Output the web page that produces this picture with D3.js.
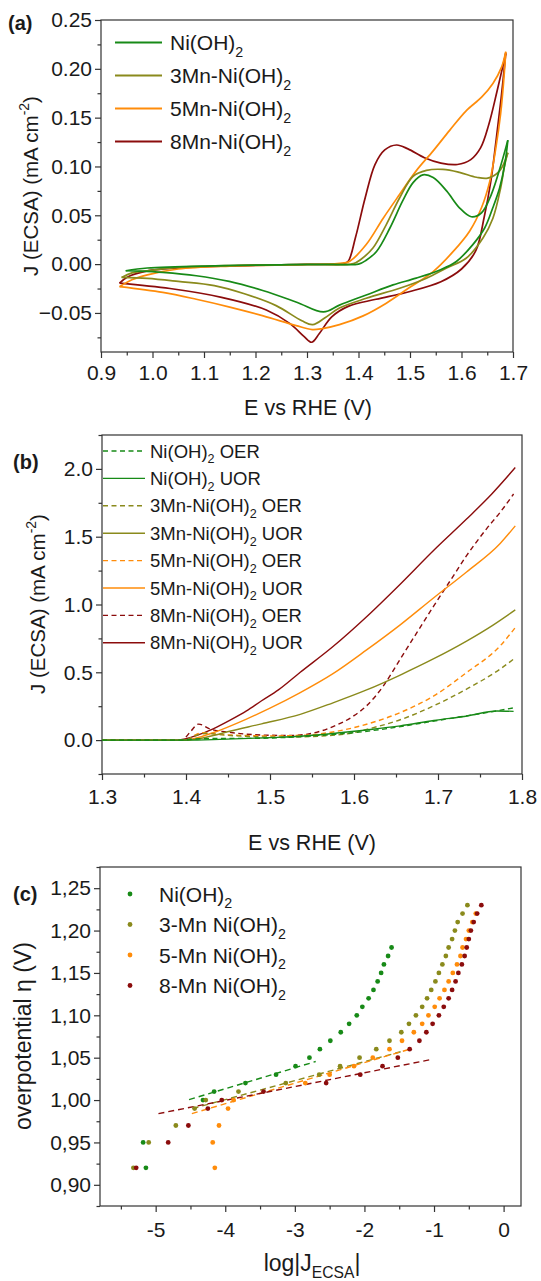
<!DOCTYPE html>
<html>
<head>
<meta charset="utf-8">
<title>CV / LSV / Tafel</title>
<script src="https://d3js.org/d3.v7.min.js"></script>
<style>
  body { margin: 0; background: #fff; }
  text { font-family: "Liberation Sans", Arial, sans-serif; fill: #1a1a1a; }
</style>
</head>
<body>
<script>
// ---------- data: panel (a) cyclic voltammograms, [E (V), J (mA cm-2)] ----------
var niFwd  = [[0.948,-0.0068],[0.99,-0.004],[1.12,-0.0017],[1.25,-0.0007],[1.35,-0.0002],[1.40,0.0],[1.415,0.004],[1.435,0.013],[1.461,0.037],[1.486,0.065],[1.506,0.0835],[1.525,0.0914],[1.545,0.0887],[1.571,0.075],[1.596,0.0577],[1.619,0.0485],[1.639,0.0526],[1.658,0.0715],[1.677,0.1024],[1.69,0.127]];
var niRev  = [[1.69,0.127],[1.684,0.102],[1.674,0.078],[1.661,0.058],[1.645,0.037],[1.622,0.020],[1.59,0.0027],[1.558,-0.006],[1.512,-0.0144],[1.467,-0.0213],[1.415,-0.0316],[1.363,-0.042],[1.332,-0.049],[1.28,-0.039],[1.214,-0.027],[1.149,-0.0177],[1.085,-0.0119],[1.02,-0.0085],[0.975,-0.0072],[0.948,-0.0068]];
var mn3Fwd = [[0.94,-0.0136],[0.96,-0.009],[0.99,-0.0068],[1.05,-0.0034],[1.15,-0.0014],[1.3,-0.0003],[1.39,0.0005],[1.405,0.005],[1.428,0.0165],[1.454,0.0405],[1.48,0.068],[1.506,0.09],[1.532,0.096],[1.564,0.097],[1.596,0.094],[1.629,0.089],[1.651,0.088],[1.674,0.0955],[1.69,0.114]];
var mn3Rev = [[1.69,0.114],[1.684,0.102],[1.676,0.078],[1.661,0.047],[1.642,0.027],[1.609,0.006],[1.571,-0.004],[1.532,-0.0144],[1.48,-0.0247],[1.415,-0.035],[1.363,-0.045],[1.335,-0.055],[1.311,-0.062],[1.29,-0.058],[1.24,-0.0425],[1.18,-0.0306],[1.12,-0.022],[1.05,-0.0177],[0.99,-0.0146],[0.94,-0.0136]];
var mn5Fwd = [[0.936,-0.0231],[0.96,-0.016],[0.99,-0.011],[1.05,-0.005],[1.15,-0.002],[1.3,-0.0004],[1.37,0.001],[1.383,0.003],[1.415,0.02],[1.448,0.047],[1.48,0.0715],[1.512,0.0955],[1.545,0.116],[1.577,0.137],[1.609,0.157],[1.639,0.171],[1.661,0.185],[1.678,0.202],[1.686,0.2175]];
var mn5Rev = [[1.686,0.2175],[1.682,0.188],[1.676,0.154],[1.667,0.12],[1.655,0.085],[1.639,0.058],[1.616,0.034],[1.584,0.013],[1.545,-0.0076],[1.499,-0.024],[1.454,-0.04],[1.409,-0.053],[1.363,-0.062],[1.33,-0.066],[1.31,-0.067],[1.279,-0.063],[1.215,-0.053],[1.15,-0.044],[1.085,-0.036],[1.02,-0.029],[0.936,-0.0231]];
var mn8Fwd = [[0.936,-0.0194],[0.95,-0.0136],[0.99,-0.007],[1.05,-0.004],[1.15,-0.0018],[1.3,-0.0003],[1.37,0.0005],[1.38,0.003],[1.394,0.027],[1.413,0.068],[1.432,0.102],[1.451,0.117],[1.474,0.122],[1.496,0.118],[1.528,0.109],[1.56,0.1035],[1.592,0.102],[1.618,0.107],[1.637,0.119],[1.653,0.143],[1.669,0.177],[1.686,0.216]];
var mn8Rev = [[1.686,0.216],[1.677,0.17],[1.667,0.126],[1.657,0.085],[1.644,0.048],[1.628,0.014],[1.6,-0.005],[1.56,-0.018],[1.5,-0.028],[1.434,-0.036],[1.381,-0.043],[1.348,-0.054],[1.324,-0.071],[1.309,-0.08],[1.294,-0.074],[1.267,-0.061],[1.221,-0.047],[1.134,-0.034],[1.034,-0.025],[0.936,-0.0194]];

// ---------- data: panel (b) linear sweeps, [E (V), J (mA cm-2)] ----------
var niOER  = [[1.30,0],[1.39,0],[1.41,0.008],[1.44,0.012],[1.48,0.013],[1.52,0.02],[1.56,0.035],[1.60,0.055],[1.64,0.085],[1.68,0.125],[1.72,0.165],[1.76,0.205],[1.79,0.238]];
var niUOR  = [[1.30,0],[1.40,0],[1.44,0.005],[1.50,0.018],[1.54,0.03],[1.58,0.052],[1.615,0.075],[1.655,0.105],[1.695,0.145],[1.735,0.178],[1.77,0.215],[1.79,0.212]];
var mn3OER = [[1.30,0],[1.40,0],[1.41,0.03],[1.425,0.05],[1.44,0.04],[1.47,0.028],[1.52,0.022],[1.56,0.03],[1.60,0.055],[1.615,0.079],[1.655,0.15],[1.695,0.253],[1.734,0.376],[1.774,0.524],[1.79,0.597]];
var mn3UOR = [[1.30,0],[1.40,0],[1.41,0.005],[1.43,0.03],[1.452,0.065],[1.49,0.12],[1.536,0.19],[1.575,0.275],[1.615,0.37],[1.655,0.48],[1.695,0.60],[1.734,0.73],[1.766,0.85],[1.792,0.96]];
var mn5OER = [[1.30,0],[1.40,0],[1.41,0.035],[1.42,0.055],[1.435,0.045],[1.46,0.036],[1.50,0.031],[1.54,0.036],[1.575,0.06],[1.615,0.117],[1.655,0.203],[1.695,0.326],[1.734,0.498],[1.774,0.695],[1.792,0.83]];
var mn5UOR = [[1.30,0],[1.40,0],[1.415,0.02],[1.433,0.056],[1.472,0.155],[1.50,0.235],[1.536,0.35],[1.575,0.49],[1.615,0.665],[1.655,0.85],[1.695,1.05],[1.734,1.24],[1.774,1.45],[1.792,1.58]];
var mn8OER = [[1.30,0],[1.395,0],[1.405,0.06],[1.415,0.118],[1.429,0.081],[1.452,0.057],[1.492,0.037],[1.524,0.034],[1.555,0.057],[1.575,0.1],[1.60,0.18],[1.615,0.253],[1.635,0.40],[1.655,0.597],[1.675,0.794],[1.695,0.99],[1.714,1.17],[1.734,1.36],[1.758,1.56],[1.774,1.68],[1.79,1.815]];
var mn8UOR = [[1.30,0],[1.39,0],[1.40,0.01],[1.413,0.035],[1.433,0.085],[1.452,0.145],[1.472,0.215],[1.49,0.29],[1.51,0.37],[1.536,0.50],[1.575,0.69],[1.615,0.91],[1.655,1.15],[1.695,1.40],[1.734,1.63],[1.764,1.815],[1.792,2.01]];

// ---------- data: panel (c) Tafel, [log|J|, overpotential (V)] ----------
var tafNi  = [[-5.14,0.92],[-5.18,0.95],[-4.32,1.00],[-4.16,1.01],[-3.71,1.02],[-3.27,1.03],[-2.99,1.04],[-2.79,1.05],[-2.64,1.06],[-2.49,1.07],[-2.34,1.08],[-2.22,1.09],[-2.11,1.10],[-2.03,1.11],[-1.94,1.12],[-1.87,1.13],[-1.81,1.14],[-1.76,1.15],[-1.72,1.16],[-1.66,1.17],[-1.61,1.18]];
var taf3Mn = [[-5.32,0.92],[-5.10,0.95],[-4.71,0.97],[-4.44,0.99],[-4.28,1.00],[-3.81,1.01],[-3.13,1.02],[-2.65,1.03],[-2.35,1.04],[-2.07,1.05],[-1.83,1.06],[-1.64,1.07],[-1.47,1.08],[-1.36,1.09],[-1.26,1.10],[-1.17,1.11],[-1.10,1.12],[-1.04,1.13],[-0.98,1.14],[-0.93,1.15],[-0.88,1.16],[-0.83,1.17],[-0.79,1.18],[-0.74,1.19],[-0.70,1.20],[-0.66,1.21],[-0.59,1.22],[-0.52,1.23]];
var taf5Mn = [[-4.15,0.92],[-4.18,0.95],[-4.09,0.97],[-3.96,0.99],[-3.88,1.00],[-2.85,1.02],[-2.50,1.03],[-2.15,1.04],[-1.88,1.05],[-1.64,1.06],[-1.46,1.07],[-1.29,1.08],[-1.17,1.09],[-1.08,1.10],[-0.99,1.11],[-0.92,1.12],[-0.85,1.13],[-0.79,1.14],[-0.73,1.15],[-0.67,1.16],[-0.62,1.17],[-0.59,1.18],[-0.54,1.19],[-0.50,1.20],[-0.45,1.21],[-0.40,1.22]];
var taf8Mn = [[-5.28,0.92],[-4.82,0.95],[-4.53,0.97],[-4.25,0.99],[-4.05,1.00],[-3.45,1.01],[-2.55,1.02],[-2.06,1.03],[-1.74,1.04],[-1.52,1.05],[-1.35,1.06],[-1.21,1.07],[-1.11,1.08],[-1.02,1.09],[-0.93,1.10],[-0.86,1.11],[-0.79,1.12],[-0.74,1.13],[-0.69,1.14],[-0.65,1.15],[-0.60,1.16],[-0.56,1.17],[-0.53,1.18],[-0.50,1.19],[-0.47,1.20],[-0.43,1.21],[-0.38,1.22],[-0.32,1.23]];
var fitNi  = [[-4.52,1.0005],[-2.70,1.0455]];
var fit3Mn = [[-4.47,0.990],[-1.48,1.057]];
var fit5Mn = [[-4.48,0.984],[-1.31,1.061]];
var fit8Mn = [[-4.96,0.984],[-1.03,1.048]];

// tick values
var aXTicks = [0.9,1.0,1.1,1.2,1.3,1.4,1.5,1.6,1.7];
var aYTicks = [-0.05,0.00,0.05,0.10,0.15,0.20,0.25];
var bXTicks = [1.3,1.4,1.5,1.6,1.7,1.8];
var bYTicks = [0.0,0.5,1.0,1.5,2.0];
var cXTicks = [-5,-4,-3,-2,-1,0];
var cYTicks = [0.90,0.95,1.00,1.05,1.10,1.15,1.20,1.25];

var colGreen = "#178a17", colOlive = "#8a8a1c", colOrange = "#ff8c0a", colRed = "#8b0c0c";

var svg = d3.select("body").append("svg").attr("width", 541).attr("height", 1281);

// text with sub/superscript parts
function rich(parent, parts, fs) {
  var t = parent.append("text").attr("font-size", fs);
  var shift = 0;
  parts.forEach(function(p) {
    var target = p[1] === "sub" ? 0.32 * fs : (p[1] === "sup" ? -0.42 * fs : 0);
    var sp = t.append("tspan").text(p[0]).attr("dy", target - shift);
    if (p[1]) sp.attr("font-size", fs * 0.68);
    shift = target;
  });
  return t;
}

function frame(x, y, xMaj, xMin, yMaj, yMin, xFmt, yFmt, xPad) {
  var x0 = x.range()[0], x1 = x.range()[1], yb = y.range()[0], yt = y.range()[1];
  var ax = svg.append("g").attr("transform", "translate(0," + yb + ")");
  ax.call(d3.axisBottom(x).tickValues(xMaj).tickSize(6).tickPadding(xPad).tickFormat(xFmt));
  ax.append("g").call(d3.axisBottom(x).tickValues(xMin).tickSize(3.5).tickFormat(""));
  var ay = svg.append("g").attr("transform", "translate(" + x0 + ",0)");
  ay.call(d3.axisLeft(y).tickValues(yMaj).tickSize(6).tickPadding(3).tickFormat(yFmt));
  ay.append("g").call(d3.axisLeft(y).tickValues(yMin).tickSize(3.5).tickFormat(""));
  svg.selectAll(".domain").remove();
  [ax, ay].forEach(function(g) {
    g.selectAll("line").attr("stroke", "#333").attr("stroke-width", 1.2);
    g.selectAll("text").attr("font-size", 21).attr("fill", "#1a1a1a")
      .attr("font-family", "'Liberation Sans', Arial, sans-serif");
  });
  svg.append("rect").attr("x", x0).attr("y", yt).attr("width", x1 - x0).attr("height", yb - yt)
    .attr("fill", "none").attr("stroke", "#333").attr("stroke-width", 1.2);
}

function mids(ticks, step) { return ticks.map(function(t) { return t + step; }); }

// ================= panel (a) =================
var xA = d3.scaleLinear().domain([0.9, 1.7]).range([101, 513]);
var yA = d3.scaleLinear().domain([-0.09, 0.25]).range([352, 20]);
frame(xA, yA, aXTicks, mids(aXTicks.slice(0, -1), 0.05), aYTicks,
      [-0.075].concat(mids(aYTicks.slice(0, -1), 0.025)), d3.format(".1f"), d3.format(".2f"), 7);

var lineA = d3.line().x(function(d) { return xA(d[0]); }).y(function(d) { return yA(d[1]); })
  .curve(d3.curveCatmullRom.alpha(0.5));
var cvSeries = [
  { fwd: niFwd, rev: niRev, c: colGreen },
  { fwd: mn3Fwd, rev: mn3Rev, c: colOlive },
  { fwd: mn5Fwd, rev: mn5Rev, c: colOrange },
  { fwd: mn8Fwd, rev: mn8Rev, c: colRed }
];
var gA = svg.append("g");
[3, 2, 1, 0].forEach(function(i) {
  var s = cvSeries[i];
  [s.fwd, s.rev].forEach(function(arr) {
    gA.append("path").datum(arr).attr("d", lineA).attr("fill", "none")
      .attr("stroke", s.c).attr("stroke-width", 1.7);
  });
});

var legA = [
  { c: colGreen, t: [["Ni(OH)"], ["2", "sub"]] },
  { c: colOlive, t: [["3Mn-Ni(OH)"], ["2", "sub"]] },
  { c: colOrange, t: [["5Mn-Ni(OH)"], ["2", "sub"]] },
  { c: colRed, t: [["8Mn-Ni(OH)"], ["2", "sub"]] }
];
legA.forEach(function(d, i) {
  var yy = 42.5 + i * 33;
  svg.append("line").attr("x1", 115).attr("x2", 162).attr("y1", yy).attr("y2", yy)
    .attr("stroke", d.c).attr("stroke-width", 1.8);
  rich(svg, d.t, 21).attr("x", 170).attr("y", yy + 7.5);
});

rich(svg, [["E vs RHE (V)"]], 21.5).attr("x", 308).attr("y", 415).attr("text-anchor", "middle");
rich(svg, [["J  (ECSA) (mA cm"], ["-2", "sup"], [")"]], 20.5)
  .attr("transform", "translate(38,186) rotate(-90)").attr("text-anchor", "middle");
svg.append("text").attr("x", 8).attr("y", 30).attr("font-size", 20).attr("font-weight", "bold").text("(a)");

// ================= panel (b) =================
var xB = d3.scaleLinear().domain([1.3, 1.8]).range([102, 522]);
var yB = d3.scaleLinear().domain([-0.25, 2.25]).range([774, 435]);
frame(xB, yB, bXTicks, mids(bXTicks.slice(0, -1), 0.05), bYTicks,
      [-0.25].concat(mids(bYTicks, 0.25)), d3.format(".1f"), d3.format(".1f"), 9);

var lineB = d3.line().x(function(d) { return xB(d[0]); }).y(function(d) { return yB(d[1]); })
  .curve(d3.curveMonotoneX);
var lsvSeries = [
  { d: niOER, c: colGreen, dash: true, t: [["Ni(OH)"], ["2", "sub"], [" OER"]] },
  { d: niUOR, c: colGreen, dash: false, t: [["Ni(OH)"], ["2", "sub"], [" UOR"]] },
  { d: mn3OER, c: colOlive, dash: true, t: [["3Mn-Ni(OH)"], ["2", "sub"], [" OER"]] },
  { d: mn3UOR, c: colOlive, dash: false, t: [["3Mn-Ni(OH)"], ["2", "sub"], [" UOR"]] },
  { d: mn5OER, c: colOrange, dash: true, t: [["5Mn-Ni(OH)"], ["2", "sub"], [" OER"]] },
  { d: mn5UOR, c: colOrange, dash: false, t: [["5Mn-Ni(OH)"], ["2", "sub"], [" UOR"]] },
  { d: mn8OER, c: colRed, dash: true, t: [["8Mn-Ni(OH)"], ["2", "sub"], [" OER"]] },
  { d: mn8UOR, c: colRed, dash: false, t: [["8Mn-Ni(OH)"], ["2", "sub"], [" UOR"]] }
];
var gB = svg.append("g");
lsvSeries.slice().reverse().forEach(function(s) {
  gB.append("path").datum(s.d).attr("d", lineB).attr("fill", "none")
    .attr("stroke", s.c).attr("stroke-width", 1.4)
    .attr("stroke-dasharray", s.dash ? "5,3.5" : null);
});
lsvSeries.forEach(function(s, i) {
  var yy = 451 + i * 27.4;
  svg.append("line").attr("x1", 103).attr("x2", 145).attr("y1", yy).attr("y2", yy)
    .attr("stroke", s.c).attr("stroke-width", 1.4).attr("stroke-dasharray", s.dash ? "5,3.5" : null);
  rich(svg, s.t, 18.5).attr("x", 150).attr("y", yy + 6.5);
});

rich(svg, [["E vs RHE (V)"]], 21.5).attr("x", 312).attr("y", 850).attr("text-anchor", "middle");
rich(svg, [["J (ECSA) (mA cm"], ["-2", "sup"], [")"]], 20.5)
  .attr("transform", "translate(45,604) rotate(-90)").attr("text-anchor", "middle");
svg.append("text").attr("x", 13).attr("y", 469).attr("font-size", 20).attr("font-weight", "bold").text("(b)");

// ================= panel (c) =================
var xC = d3.scaleLinear().domain([-5.8, 0.25]).range([100, 521]);
var yC = d3.scaleLinear().domain([0.875, 1.275]).range([1206, 867]);
frame(xC, yC, cXTicks, mids(cXTicks, -0.5), cYTicks,
      [0.875].concat(mids(cYTicks, 0.025)),
      function(d) { return String(d); },
      function(d) { return d3.format(".2f")(d).replace(".", ","); }, 10);

var tafSeries = [
  { d: tafNi, fit: fitNi, c: colGreen, t: [["Ni(OH)"], ["2", "sub"]] },
  { d: taf3Mn, fit: fit3Mn, c: colOlive, t: [["3-Mn Ni(OH)"], ["2", "sub"]] },
  { d: taf5Mn, fit: fit5Mn, c: colOrange, t: [["5-Mn Ni(OH)"], ["2", "sub"]] },
  { d: taf8Mn, fit: fit8Mn, c: colRed, t: [["8-Mn Ni(OH)"], ["2", "sub"]] }
];
var gC = svg.append("g");
var lineC = d3.line().x(function(d) { return xC(d[0]); }).y(function(d) { return yC(d[1]); });
tafSeries.forEach(function(s) {
  gC.append("path").datum(s.fit).attr("d", lineC).attr("fill", "none")
    .attr("stroke", s.c).attr("stroke-width", 1.4).attr("stroke-dasharray", "6,4");
});
tafSeries.forEach(function(s) {
  gC.selectAll(null).data(s.d).enter().append("circle")
    .attr("cx", function(d) { return xC(d[0]); })
    .attr("cy", function(d) { return yC(d[1]); })
    .attr("r", 2.4).attr("fill", s.c);
});
tafSeries.forEach(function(s, i) {
  var yy = 894 + i * 30.5;
  svg.append("circle").attr("cx", 130).attr("cy", yy).attr("r", 2.4).attr("fill", s.c);
  rich(svg, s.t, 21).attr("x", 159).attr("y", yy + 7.5);
});

rich(svg, [["log|J"], ["ECSA", "sub"], ["|"]], 23).attr("x", 312).attr("y", 1271).attr("text-anchor", "middle");
rich(svg, [["overpotential \u03b7 (V)"]], 23)
  .attr("transform", "translate(31,1036) rotate(-90)").attr("text-anchor", "middle");
svg.append("text").attr("x", 13).attr("y", 901).attr("font-size", 20).attr("font-weight", "bold").text("(c)");
</script>
</body>
</html>
